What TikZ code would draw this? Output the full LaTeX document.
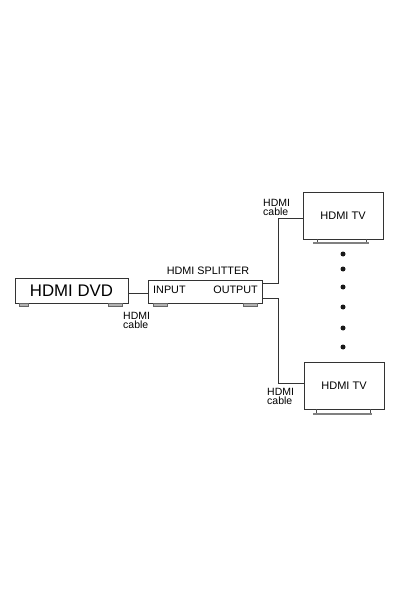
\documentclass[tikz,border=0pt]{standalone}
\usepackage{fontspec}
\setmainfont{Liberation Sans}
\begin{document}
\begin{tikzpicture}[x=1pt,y=-1pt,
  box/.style={draw=black!80, line width=0.8pt, fill=white, inner sep=0pt},
  foot/.style={draw=black!60, fill=black!30, line width=0.5pt},
  wire/.style={draw=black!80, line width=0.8pt},
  lbl/.style={font=\fontsize{10.5}{9}\selectfont, align=left, inner sep=0pt},
  txt/.style={font=\fontsize{10.8}{10}\selectfont, inner sep=0pt},
  dot/.style={circle, fill=black!90, minimum size=5pt, inner sep=0pt}]
\useasboundingbox (0,0) rectangle (401,601);
% DVD
\node[box, minimum width=113pt, minimum height=25pt, font=\fontsize{16.8}{16}\selectfont] (dvd) at (71.5,290.5) {HDMI DVD};
\draw[foot] (19,303) rectangle (28,306);
\draw[foot] (108,303) rectangle (122,306);
% Splitter
\node[box, minimum width=114pt, minimum height=23pt] (spl) at (205,291.5) {};
\node[txt, anchor=west] (inp) at (153,290) {INPUT};
\node[txt, anchor=east] (outp) at (258,290) {OUTPUT};
\node[txt] (title) at (208,271) {HDMI SPLITTER};
\draw[foot] (153,303) rectangle (167,306);
\draw[foot] (243,303) rectangle (257,306);
% TVs
\node[box, minimum width=80pt, minimum height=47pt, font=\fontsize{11}{10}\selectfont] (tv1) at (343,215.5) {HDMI TV};
\draw[draw=black!70, line width=0.6pt] (317,239) -- (317,242.5) (366,239) -- (366,242.5);
\draw[draw=black!50, line width=1.6pt] (313,243) -- (369,243);
\node[box, minimum width=80pt, minimum height=47pt, font=\fontsize{11}{10}\selectfont] (tv2) at (344,385.5) {HDMI TV};
\draw[draw=black!70, line width=0.6pt] (316,409) -- (316,413) (370,409) -- (370,413);
\draw[draw=black!50, line width=1.6pt] (313,414) -- (372,414);
% wires
\coordinate (a1) at (dvd.east |- 0,293);
\coordinate (a2) at (spl.west |- 0,293);
\draw[wire] (a1) -- (a2);
\coordinate (o1) at (spl.east |- 0,283);
\coordinate (o2) at (spl.east |- 0,298);
\coordinate (t1) at (tv1.west |- 0,218);
\coordinate (t2) at (tv2.west |- 0,383);
\draw[wire] (o1) -- (278,283) -- (278,218) -- (t1);
\draw[wire] (o2) -- (278,298) -- (278,383) -- (t2);
% labels
\node[lbl, anchor=west] (c1) at (123,320) {HDMI\\cable};
\node[lbl, anchor=west] (c2) at (263,207.5) {HDMI\\cable};
\node[lbl, anchor=west] (c3) at (267,396) {HDMI\\cable};
% dots
\foreach \y/\n in {254/d1,269/d2,287/d3,307/d4,328/d5,347/d6}
  \node[dot] (\n) at (343,\y) {};
\end{tikzpicture}
\end{document}
